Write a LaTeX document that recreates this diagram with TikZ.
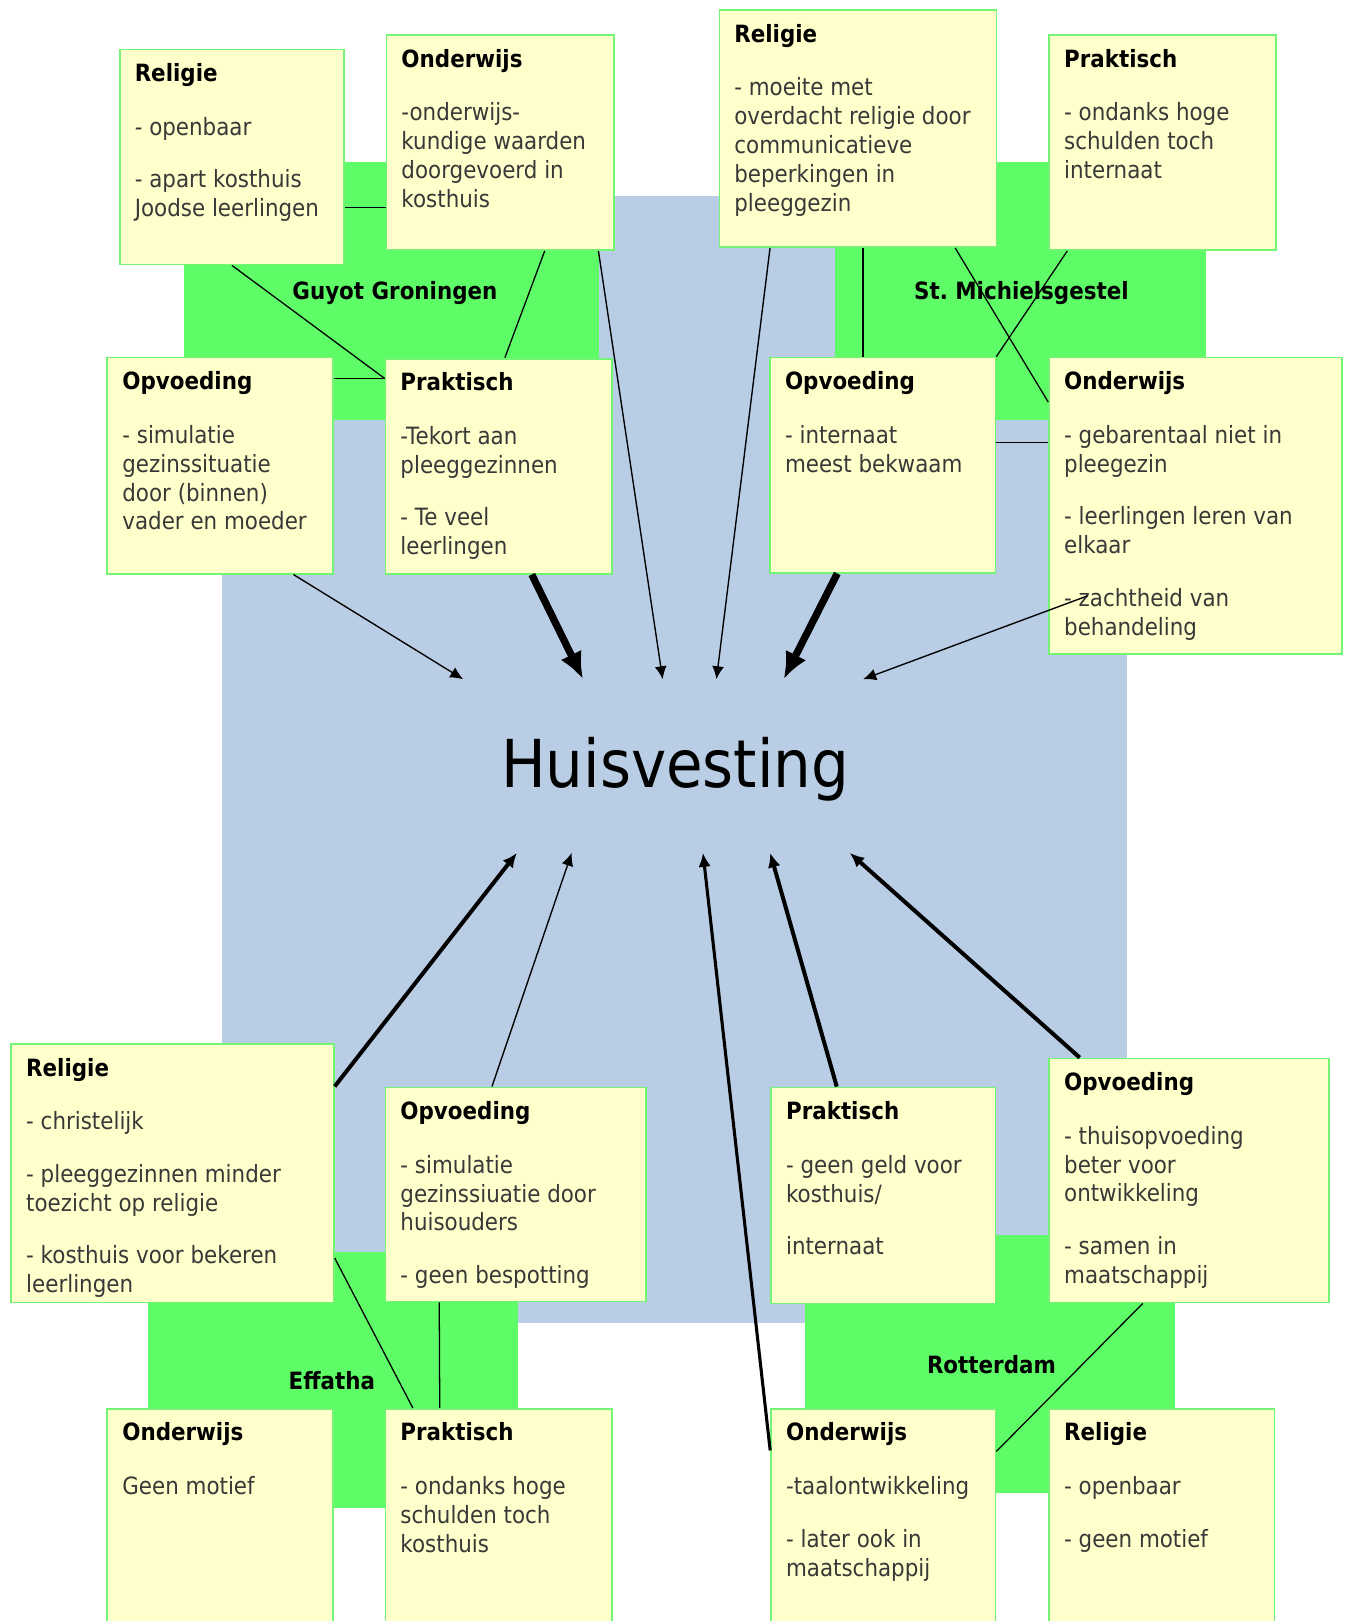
\documentclass[tikz,border=0pt]{standalone}
\usepackage{fontspec}
\setmainfont{DejaVu Sans}[FakeStretch=0.9]
\usetikzlibrary{arrows.meta}

\definecolor{vlakblauw}{RGB}{185,205,228}
\definecolor{groepgroen}{RGB}{94,252,102}
\definecolor{kaartgeel}{RGB}{255,255,204}
\definecolor{kaartrand}{RGB}{115,245,115}

\newcommand{\kop}[1]{{\bfseries\color{black}#1}\\[0.48cm]}

\tikzset{
	kaart/.style 2 args={draw=kaartrand, fill=kaartgeel, line width=1pt, anchor=north west, inner sep=0pt, minimum width=#1*0.02cm, minimum height=#2*0.02cm},
	tekst/.style={anchor=north west, align=left, inner sep=0pt, text=black!78, font=\fontsize{13.1}{15.9}\selectfont},
	naam/.style={anchor=base, inner sep=0pt, font=\fontsize{13.1}{15.9}\selectfont\bfseries},
	lijn/.style={line width=0.7pt},
	dun/.style={line width=0.75pt, -{Latex[length=0.25cm, width=0.23cm]}},
	middel/.style={line width=1.7pt, -{Latex[length=0.27cm, width=0.24cm]}},
	half/.style={line width=2.2pt, -{Latex[length=0.28cm, width=0.25cm]}},
	dik/.style={line width=4pt, -{Latex[length=0.52cm, width=0.45cm]}},
}

\begin{document}
\begin{tikzpicture}[x=0.02cm, y=-0.02cm]

		\useasboundingbox (0,0) rectangle (1303,1568);
		\clip (0,0) rectangle (1303,1568);

		\fill[vlakblauw] (215,190) rectangle (1090,1280);

		\fill[groepgroen] (178,157) rectangle (579,406);
		\fill[groepgroen] (808,157) rectangle (1167,406);
		\fill[groepgroen] (143,1211) rectangle (501,1459);
		\fill[groepgroen] (779,1195) rectangle (1137,1444);

		\node[naam] (guyot) at (382,290) {Guyot Groningen};
		\node[naam] (gestel) at (988,290) {St.\ Michielsgestel};
		\node[naam] (effatha) at (321,1344) {Effatha};
		\node[naam] (rdam) at (959,1329) {Rotterdam};

		\node[anchor=base, inner sep=0pt, font=\fontsize{36.4}{40}\selectfont] (huis) at (653,762) {Huisvesting};

		\node[kaart={217}{208}] (tlRel) at (115,47) {};
		\node[kaart={220}{208}] (tlOnd) at (373,33) {};
		\node[kaart={218}{209}] (tlOpv) at (103,345) {};
		\node[kaart={219}{208}] (tlPra) at (372,346) {};

		\node[kaart={268}{229}] (trRel) at (695,9) {};
		\node[kaart={219}{208}] (trPra) at (1014,33) {};
		\node[kaart={218}{208}] (trOpv) at (744,345) {};
		\node[kaart={283}{287}] (trOnd) at (1014,345) {};

		\node[kaart={312}{250}] (blRel) at (10,1009) {};
		\node[kaart={252}{207}] (blOpv) at (372,1051) {};
		\node[kaart={218}{213}] (blOnd) at (103,1362) {};
		\node[kaart={219}{213}] (blPra) at (372,1362) {};

		\node[kaart={217}{209}] (brPra) at (745,1051) {};
		\node[kaart={271}{236}] (brOpv) at (1014,1023) {};
		\node[kaart={217}{213}] (brOnd) at (745,1362) {};
		\node[kaart={218}{213}] (brRel) at (1014,1362) {};

		\node[tekst] (tlRelT) at ([shift={(15,14)}]tlRel.north west) {\kop{Religie}- openbaar\\[0.46cm]- apart kosthuis\\Joodse leerlingen};
		\node[tekst] (tlOndT) at ([shift={(15,14)}]tlOnd.north west) {\kop{Onderwijs}-onderwijs-\\kundige waarden\\doorgevoerd in\\kosthuis};
		\node[tekst] (tlOpvT) at ([shift={(15,14)}]tlOpv.north west) {\kop{Opvoeding}- simulatie\\gezinssituatie\\door (binnen)\\vader en moeder};
		\node[tekst] (tlPraT) at ([shift={(15,14)}]tlPra.north west) {\kop{Praktisch}-Tekort aan\\pleeggezinnen\\[0.46cm]- Te veel\\leerlingen};

		\node[tekst] (trRelT) at ([shift={(15,14)}]trRel.north west) {\kop{Religie}- moeite met\\overdacht religie door\\communicatieve\\beperkingen in\\pleeggezin};
		\node[tekst] (trPraT) at ([shift={(15,14)}]trPra.north west) {\kop{Praktisch}- ondanks hoge\\schulden toch\\internaat};
		\node[tekst] (trOpvT) at ([shift={(15,14)}]trOpv.north west) {\kop{Opvoeding}- internaat\\meest bekwaam};
		\node[tekst] (trOndT) at ([shift={(15,14)}]trOnd.north west) {\kop{Onderwijs}- gebarentaal niet in\\pleegezin\\[0.46cm]- leerlingen leren van\\elkaar\\[0.46cm]- zachtheid van\\behandeling};

		\node[tekst] (blRelT) at ([shift={(15,14)}]blRel.north west) {\kop{Religie}- christelijk\\[0.46cm]- pleeggezinnen minder\\toezicht op religie\\[0.46cm]- kosthuis voor bekeren\\leerlingen};
		\node[tekst] (blOpvT) at ([shift={(15,14)}]blOpv.north west) {\kop{Opvoeding}- simulatie\\gezinssiuatie door\\huisouders\\[0.46cm]- geen bespotting};
		\node[tekst] (blOndT) at ([shift={(15,14)}]blOnd.north west) {\kop{Onderwijs}Geen motief};
		\node[tekst] (blPraT) at ([shift={(15,14)}]blPra.north west) {\kop{Praktisch}- ondanks hoge\\schulden toch\\kosthuis};

		\node[tekst] (brPraT) at ([shift={(15,14)}]brPra.north west) {\kop{Praktisch}- geen geld voor\\kosthuis/\\[0.46cm]internaat};
		\node[tekst] (brOpvT) at ([shift={(15,14)}]brOpv.north west) {\kop{Opvoeding}- thuisopvoeding\\beter voor\\ontwikkeling\\[0.46cm]- samen in\\maatschappij};
		\node[tekst] (brOndT) at ([shift={(15,14)}]brOnd.north west) {\kop{Onderwijs}-taalontwikkeling\\[0.46cm]- later ook in\\maatschappij};
		\node[tekst] (brRelT) at ([shift={(15,14)}]brRel.north west) {\kop{Religie}- openbaar\\[0.46cm]- geen motief};

		\draw[lijn]([shift={(0,49)}]tlRel.east) to ([shift={(0,63)}]tlOnd.west);
		\draw[lijn](tlRel.south) to ([shift={(0,20)}]tlPra.north west);
		\draw[lijn]([shift={(0,21)}]tlOpv.north east) to ([shift={(0,20)}]tlPra.north west);
		\draw[lijn]([shift={(43,0)}]tlOnd.south) to ([shift={(6,0)}]tlPra.north);

		\draw[lijn]([shift={(5,0)}]trRel.south) to ([shift={(-19,0)}]trOpv.north);
		\draw[lijn]([shift={(94,0)}]trRel.south) to ([shift={(0,44)}]trOnd.north west);
		\draw[lijn]([shift={(-92,0)}]trPra.south) to (trOpv.north east);
		\draw[lijn]([shift={(0,83)}]trOpv.north east) to ([shift={(0,83)}]trOnd.north west);

		\draw[lijn]([shift={(0,82)}]blRel.east) to ([shift={(-83,0)}]blPra.north);
		\draw[lijn]([shift={(-74,0)}]blOpv.south) to ([shift={(-57,0)}]blPra.north);

		\draw[lijn]([shift={(-45,0)}]brOpv.south) to ([shift={(0,42)}]brOnd.north east);

		\draw[dun]([shift={(71,0)}]tlOpv.south) to ([shift={(-205,-105)}]huis.base);
		\draw[dik]([shift={(32,0)}]tlPra.south) to ([shift={(-89,-105)}]huis.base);
		\draw[dun]([shift={(95,0)}]tlOnd.south) to ([shift={(-12,-105)}]huis.base);
		\draw[dun]([shift={(-85,0)}]trRel.south) to ([shift={(40,-105)}]huis.base);
		\draw[dik]([shift={(-44,0)}]trOpv.south) to ([shift={(105,-105)}]huis.base);
		\draw[dun]([shift={(38,87)}]trOnd.west) to ([shift={(182,-105)}]huis.base);

		\draw[half]([shift={(0,-84)}]blRel.east) to ([shift={(-153,63)}]huis.base);
		\draw[dun]([shift={(-23,0)}]blOpv.north) to ([shift={(-100,63)}]huis.base);
		\draw[middel]([shift={(0,41)}]brOnd.north west) to ([shift={(27,63)}]huis.base);
		\draw[half]([shift={(-45,0)}]brPra.north) to ([shift={(92,63)}]huis.base);
		\draw[half]([shift={(-106,0)}]brOpv.north) to ([shift={(169,63)}]huis.base);

	\end{tikzpicture}
\end{document}
